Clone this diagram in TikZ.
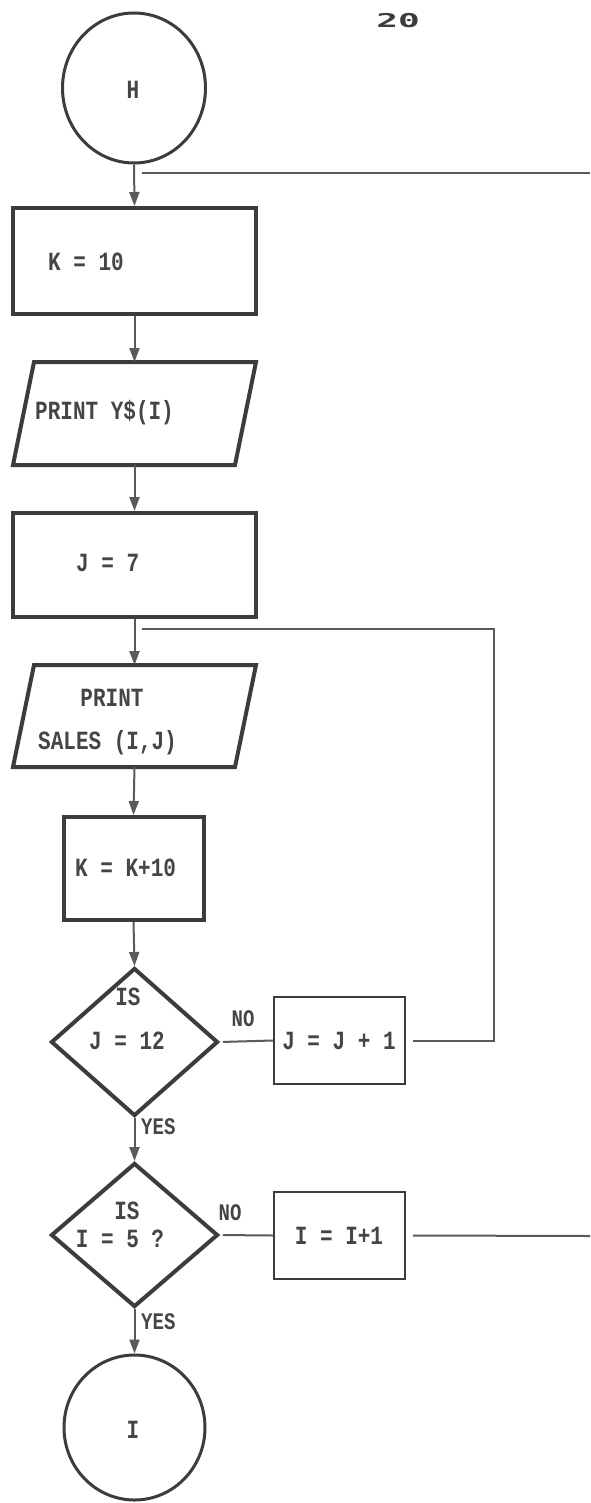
\documentclass[tikz,border=0pt]{standalone}
\usepackage{fontspec}
\usepackage{graphicx}
\newfontfamily\dotfont{Liberation Mono}
\newfontfamily\pagefont{DejaVu Sans Mono}
\usetikzlibrary{shapes.geometric,arrows.meta}
\definecolor{ink}{HTML}{3C3C3C}
\definecolor{wire}{HTML}{5A5A5A}
\definecolor{txt}{HTML}{454545}
\newcommand\tall[1]{\scalebox{1}[1.25]{#1}}
\begin{document}
\begin{tikzpicture}[x=1pt,y=-1pt,
  heavy/.style={draw=ink, line width=4pt, inner sep=0pt},
  box/.style={heavy, rectangle, minimum width=243pt},
  pbox/.style={rectangle, draw=none, inner sep=0pt, outer sep=0pt, minimum width=243pt},
  pline/.style={draw=ink, line width=4pt},
  thinbox/.style={draw=ink, line width=2pt, rectangle, inner sep=0pt, minimum width=131pt, minimum height=87pt},
  term/.style={draw=ink, line width=3pt, ellipse, inner sep=0pt},
  decide/.style={heavy, diamond, minimum width=167pt, minimum height=148pt},
  conn/.style={draw=wire, line width=2pt},
  arr/.style={conn, -{Triangle[width=10pt,length=14pt]}},
  lbl/.style={font=\dotfont\bfseries\fontsize{21}{24}\selectfont, text=txt, inner sep=0pt},
  small/.style={font=\dotfont\bfseries\fontsize{19}{22}\selectfont, text=txt, inner sep=0pt}
]
\fill[white] (0,0) rectangle (590,1503);
\useasboundingbox (0,0) rectangle (590,1503);

% page number
\node[font=\pagefont\bfseries\fontsize{19}{21}\selectfont, text=ink, inner sep=0pt] (pg) at (398,21) {\scalebox{1.9}[1]{20}};

% shapes
\node[term, minimum width=143pt, minimum height=150pt] (H) at (134,88) {};
\node[box, minimum height=106pt] (k10) at (134.5,261) {};
\node[pbox, minimum height=103pt] (p1) at (134.5,413.5) {};
\draw[pline] ([xshift=21pt]p1.north west) -- (p1.north east) -- ([xshift=-21pt]p1.south east) -- (p1.south west) -- cycle;
\node[box, minimum height=104pt] (j7) at (134.5,565) {};
\node[pbox, minimum height=102pt] (p2) at (134.5,716) {};
\draw[pline] ([xshift=21pt]p2.north west) -- (p2.north east) -- ([xshift=-21pt]p2.south east) -- (p2.south west) -- cycle;
\node[heavy, rectangle, minimum width=140pt, minimum height=103pt] (kk) at (133.5,868.5) {};
\node[decide] (d1) at (134.5,1042) {};
\node[thinbox] (jj) at (339.5,1040.5) {};
\node[decide, minimum height=144pt] (d2) at (134.5,1235) {};
\node[thinbox] (ii) at (339.5,1235.5) {};
\node[term, minimum width=141pt, minimum height=145pt] (I) at (134.5,1427.5) {};

% texts
\node[lbl] (tH) at (133,90) {\tall{H}};
\node[lbl, anchor=west] (tk10) at (48,262) {\tall{K = 10}};
\node[lbl, anchor=west] (tp1) at (35,413) {\tall{PRINT Y\$(I)}};
\node[lbl, anchor=west] (tj7) at (76,563) {\tall{J = 7}};
\node[lbl] (tp2a) at (112,698) {\tall{PRINT}};
\node[lbl, anchor=west] (tp2b) at (38,743) {\tall{SALES (I,J)}};
\node[lbl, anchor=west] (tkk) at (75,868) {\tall{K = K+10}};
\node[lbl] (td1a) at (128,997) {\tall{IS}};
\node[lbl] (td1b) at (127,1041) {\tall{J = 12}};
\node[small] (no1) at (243,1019) {\tall{NO}};
\node[lbl] (tjj) at (339,1041) {\tall{J = J + 1}};
\node[small, anchor=west] (yes1) at (141,1127) {\tall{YES}};
\node[lbl] (td2a) at (127,1211) {\tall{IS}};
\node[lbl] (td2b) at (120,1239) {\tall{I = 5 ?}};
\node[small] (no2) at (230,1213) {\tall{NO}};
\node[lbl] (tii) at (339,1236) {\tall{I = I+1}};
\node[small, anchor=west] (yes2) at (141,1322) {\tall{YES}};
\node[lbl] (tI) at (133,1430) {\tall{I}};

% main flow
\draw[arr] (H.south) -- (k10.north);
\draw[arr] (k10.south) -- (p1.north);
\draw[arr] (p1.south) -- (j7.north);
\draw[arr] (j7.south) -- (p2.north);
\draw[arr] (p2.south) -- (kk.north);
\draw[arr] (kk.south) -- (d1.north);
\draw[arr] (d1.south) -- (d2.north);
\draw[arr] (d2.south) -- (I.north);

% outer loop (off page)
\coordinate (t1) at (142,173);
\coordinate (t2) at (590,173);
\draw[conn] (t1) -- (t2);

% inner loop
\coordinate (c1) at (494,629);
\coordinate (c2) at (142,629);
\draw[conn, shorten <=3pt] (d1.east) -- (jj.west);
\draw[conn] ([xshift=7pt]jj.east) -| (c1) -- (c2);

% I loop
\coordinate (r2) at (590,1236);
\draw[conn, shorten <=3pt] (d2.east) -- (ii.west);
\draw[conn] ([xshift=7pt]ii.east) -- (r2);
\end{tikzpicture}
\end{document}
